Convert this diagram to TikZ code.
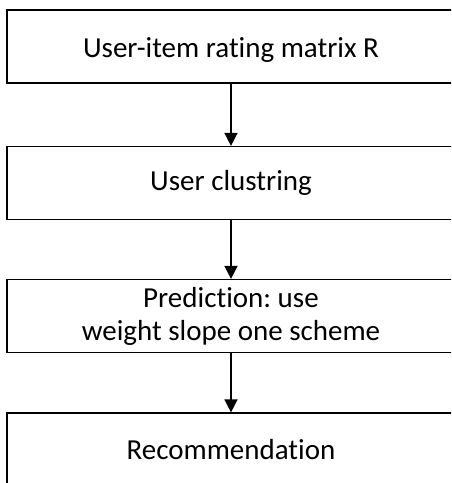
\documentclass[tikz,border=0pt]{standalone}
\usepackage{fontspec}
\setmainfont[Ligatures=NoCommon]{Carlito}
\usepackage{tikz}
\usetikzlibrary{arrows.meta}
\frenchspacing
\tikzset{
  stepbox/.style={draw, line width=1.2pt, minimum width=448pt, minimum height=73pt,
    align=center, font=\fontsize{29}{33}\selectfont, inner sep=0pt},
  flow/.style={-{Triangle[length=13pt,width=13pt]}, line width=1.5pt}
}

\begin{document}
\begin{tikzpicture}[x=1pt, y=-1pt]
            % Page frame
            \useasboundingbox (0,0) rectangle (451,483);
            \clip (0,0) rectangle (451,483);

            % Boxes
            \node[stepbox, text height=22pt, text depth=0pt] (rating) at (231,46.5) {User-item rating matrix R};
            \node[stepbox] (cluster) at (231,183) {User clustring};
            \node[stepbox] (predict) at (231,316) {Prediction: use\\weight slope one scheme};
            \node[stepbox] (recommend) at (231,449.5) {Recommendation};

            % Arrows between boxes
            \draw[flow] (rating) -- (cluster);
            \draw[flow] (cluster) -- (predict);
            \draw[flow] (predict) -- (recommend);
\end{tikzpicture}
\end{document}
